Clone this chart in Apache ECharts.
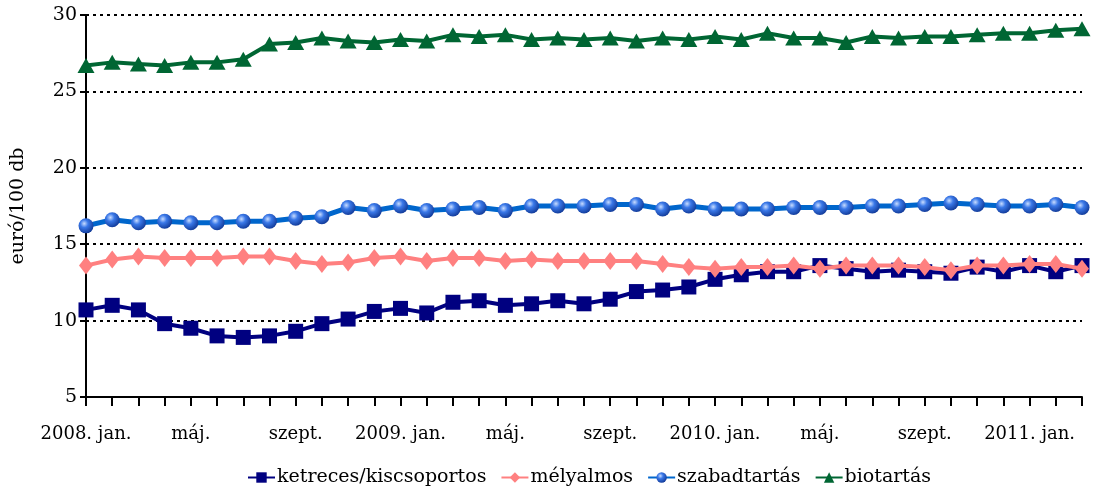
<!DOCTYPE html>
<html>
<head>
<meta charset="utf-8">
<script src="https://cdn.jsdelivr.net/npm/echarts@6/dist/echarts.min.js"></script>
<style>html,body{margin:0;padding:0;background:#fff}#c{width:1095px;height:492px}</style>
</head>
<body>
<div id="c"></div>
<script>
var categories = [
  "2008. jan.","febr.","márc.","ápr.","máj.","jún.","júl.","aug.","szept.","okt.","nov.","dec.",
  "2009. jan.","febr.","márc.","ápr.","máj.","jún.","júl.","aug.","szept.","okt.","nov.","dec.",
  "2010. jan.","febr.","márc.","ápr.","máj.","jún.","júl.","aug.","szept.","okt.","nov.","dec.",
  "2011. jan.","febr.","márc."
];
var ketreces = [10.7,11.0,10.7,9.8,9.5,9.0,8.9,9.0,9.3,9.8,10.1,10.6,10.8,10.5,11.2,11.3,11.0,11.1,11.3,11.1,11.4,11.9,12.0,12.2,
  12.7,13.0,13.2,13.2,13.6,13.4,13.2,13.3,13.2,13.1,13.5,13.2,13.6,13.2,13.6];
var melyalmos = [13.6,14.0,14.2,14.1,14.1,14.1,14.2,14.2,13.9,13.7,13.8,14.1,14.2,13.9,14.1,14.1,13.9,14.0,13.9,13.9,13.9,13.9,13.7,13.5,
  13.4,13.5,13.5,13.6,13.4,13.6,13.6,13.6,13.5,13.3,13.6,13.6,13.7,13.7,13.4];
var szabad = [16.2,16.6,16.4,16.5,16.4,16.4,16.5,16.5,16.7,16.8,17.4,17.2,17.5,17.2,17.3,17.4,17.2,17.5,17.5,17.5,17.6,17.6,17.3,17.5,
  17.3,17.3,17.3,17.4,17.4,17.4,17.5,17.5,17.6,17.7,17.6,17.5,17.5,17.6,17.4];
var bio = [26.7,26.9,26.8,26.7,26.9,26.9,27.1,28.1,28.2,28.5,28.3,28.2,28.4,28.3,28.7,28.6,28.7,28.4,28.5,28.4,28.5,28.3,28.5,28.4,
  28.6,28.4,28.8,28.5,28.5,28.2,28.6,28.5,28.6,28.6,28.7,28.8,28.8,29.0,29.1];
var yTicks = {min:5, max:30, interval:5};
var seriesNames = ["ketreces/kiscsoportos","mélyalmos","szabadtartás","biotartás"];

var FONT = "DejaVu Serif";
var chart = echarts.init(document.getElementById('c'));
var sphere = {type:'radial', x:0.38, y:0.35, r:0.75, colorStops:[
  {offset:0, color:'#c8dcff'},{offset:0.35, color:'#3a78e8'},{offset:1, color:'#0a2f8a'}]};
chart.setOption({
  animation:false,
  textStyle:{fontFamily:FONT},
  grid:{left:86, right:13, top:15, bottom:95, containLabel:false},
  legend:{
    top:463, left:242, itemGap:14, itemWidth:27, itemHeight:13,
    textStyle:{fontFamily:FONT, fontSize:19, color:'#000', padding:[0,0,0,-3]},
    data:seriesNames
  },
  xAxis:{
    type:'category', data:categories, boundaryGap:false,
    axisLine:{lineStyle:{color:'#000', width:2}},
    axisTick:{show:true, interval:0, length:9, lineStyle:{color:'#000', width:2}},
    axisLabel:{interval:3, margin:28, fontFamily:FONT, fontSize:18, color:'#000'},
    splitLine:{show:false}
  },
  yAxis:{
    type:'value', min:yTicks.min, max:yTicks.max, interval:yTicks.interval,
    name:'euró/100 db', nameLocation:'middle', nameGap:58, nameRotate:90,
    nameTextStyle:{fontFamily:FONT, fontSize:19, color:'#000'},
    axisLine:{show:true, lineStyle:{color:'#000', width:2}},
    axisTick:{show:true, length:6, lineStyle:{color:'#000', width:2}},
    axisLabel:{fontFamily:FONT, fontSize:19, color:'#000', margin:9},
    splitLine:{show:true, lineStyle:{color:'#000', width:2, type:[3,4]}}
  },
  series:[
    {name:seriesNames[0], type:'line', data:ketreces, symbol:'rect', symbolSize:15, showAllSymbol:true,
     lineStyle:{color:'#000080', width:4}, itemStyle:{color:'#000080'}, z:3},
    {name:seriesNames[1], type:'line', data:melyalmos, symbol:'diamond', symbolSize:[14,18], showAllSymbol:true,
     lineStyle:{color:'#FF8080', width:4}, itemStyle:{color:'#FF8080'}, z:4},
    {name:seriesNames[2], type:'line', data:szabad, symbol:'circle', symbolSize:15, showAllSymbol:true,
     lineStyle:{color:'#0066CC', width:5}, itemStyle:{color:sphere}, z:3},
    {name:seriesNames[3], type:'line', data:bio, symbol:'triangle', symbolSize:[17,15], showAllSymbol:true,
     lineStyle:{color:'#006633', width:4}, itemStyle:{color:'#006633'}, z:3}
  ]
});
</script>
</body>
</html>
